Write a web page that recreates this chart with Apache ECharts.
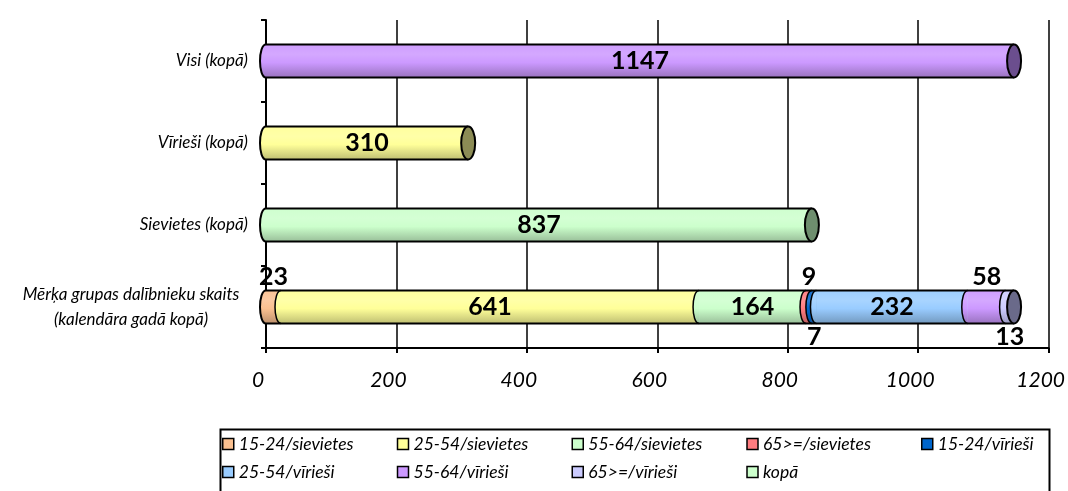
<!DOCTYPE html>
<html><head><meta charset="utf-8">
<script src="https://cdn.jsdelivr.net/npm/echarts@6/dist/echarts.min.js"></script>
<style>html,body{margin:0;padding:0;background:#fff}#c{width:1068px;height:491px}</style>
</head><body><div id="c"></div>
<script>
// ---- data ----
const categories = ['Mērķa grupas dalībnieku skaits\n(kalendāra gadā kopā)', 'Sievietes (kopā)', 'Vīrieši (kopā)', 'Visi (kopā)'];
const seriesNames = ['15-24/sievietes','25-54/sievietes','55-64/sievietes','65>=/sievietes','15-24/vīrieši','25-54/vīrieši','55-64/vīrieši','65>=/vīrieši','kopā'];
const s15_24_siev = [23, null, null, null];
const s25_54_siev = [641, null, 310, null];
const s55_64_siev = [164, null, null, null];
const s65_siev    = [9, null, null, null];
const s15_24_vir  = [7, null, null, null];
const s25_54_vir  = [232, null, null, null];
const s55_64_vir  = [58, null, null, 1147];
const s65_vir     = [13, null, null, null];
const sKopa       = [null, 837, null, null];
const xTicks = [0, 200, 400, 600, 800, 1000, 1200];

const seriesData = [s15_24_siev, s25_54_siev, s55_64_siev, s65_siev, s15_24_vir, s25_54_vir, s55_64_vir, s65_vir, sKopa];

// ---- styles ----
const baseColors = ['#FAC090','#FFFF99','#CCFFCC','#FF7C80','#0066CC','#99CCFF','#CC99FF','#CCCCFF','#CCFFCC'];
const capColors  = ['#B08060','#8C8C55','#6E8E6E','#B05558','#004488','#5F7F9F','#6B4E8E','#6A6A8A','#6E8E6E'];
const smallPos = {0:'top', 3:'top', 4:'bottom', 6:'top', 7:'bottom'};

function shade(hex, f){
  const n = parseInt(hex.slice(1),16);
  let r=(n>>16)&255, g=(n>>8)&255, b=n&255;
  if (f<0){ r=Math.round(r*(1+f)); g=Math.round(g*(1+f)); b=Math.round(b*(1+f)); }
  else { r=Math.round(r+(255-r)*f); g=Math.round(g+(255-g)*f); b=Math.round(b+(255-b)*f); }
  return 'rgb('+r+','+g+','+b+')';
}
function grad(k){
  const c = baseColors[k];
  return new echarts.graphic.LinearGradient(0,0,0,1,[
    {offset:0, color: shade(c,0.05)},
    {offset:0.3, color: shade(c,0.15)},
    {offset:0.55, color: c},
    {offset:1, color: shade(c,-0.25)}
  ]);
}

const FONT = 'Lato';
const BAR_H = 33;

const barSeries = seriesNames.map((name, k) => ({
  name: name,
  type: 'bar',
  stack: 'total',
  barWidth: BAR_H,
  itemStyle: { color: grad(k) },
  label: { show: true, position: 'inside', color: '#000', fontFamily: FONT, fontWeight: 'bold', fontSize: 25, distance: 1 },
  data: seriesData[k].map(v => {
    if (v == null) return null;
    if (v < 100 && smallPos[k] !== undefined) return { value: v, label: { position: smallPos[k] } };
    return v;
  }),
  z: 2
}));

function renderRow(params, api){
  const i = api.value(1);
  const segs = []; let cum = 0;
  seriesData.forEach((arr, k) => { const v = arr[i]; if (v) { segs.push({start: cum, end: cum + v, k: k}); cum += v; } });
  const cy = api.coord([0, i])[1];
  const h = BAR_H / 2;
  const top = cy - h, bot = cy + h;
  const X = v => api.coord([v, i])[0];
  const rx = 6, c = rx * 4 / 3;
  const ch = [];
  const arc = (x, k, first) => {
    ch.push({type:'path', shape:{pathData:'M'+x+','+top+' C'+(x-c)+','+top+' '+(x-c)+','+bot+' '+x+','+bot+' Z'}, style:{fill: grad(k), stroke: null}});
    ch.push({type:'path', shape:{pathData:'M'+x+','+top+' C'+(x-c)+','+top+' '+(x-c)+','+bot+' '+x+','+bot}, style:{fill: null, stroke:'#000', lineWidth: first ? 2 : 1.5}});
  };
  segs.forEach((s, j) => arc(X(s.start), s.k, j === 0));
  const x0 = X(0), x1 = X(cum);
  ch.push({type:'line', shape:{x1:x0, y1:top, x2:x1, y2:top}, style:{stroke:'#000', lineWidth:2}});
  ch.push({type:'line', shape:{x1:x0, y1:bot, x2:x1, y2:bot}, style:{stroke:'#000', lineWidth:2}});
  const last = segs[segs.length - 1];
  ch.push({type:'ellipse', shape:{cx:x1, cy:cy, rx:rx+1, ry:h}, style:{fill: capColors[last.k], stroke:'#000', lineWidth:2}});
  return {type:'group', children: ch};
}

const rowData = categories.map((c, i) => [seriesData.reduce((a, arr) => a + (arr[i] || 0), 0), i]);

const chart = echarts.init(document.getElementById('c'), null, {renderer:'canvas'});
chart.setOption({
  animation: false,
  backgroundColor: '#fff',
  grid: { left: 266, right: 18, top: 20, bottom: 143 },
  xAxis: {
    type: 'value', min: 0, max: 1200, interval: 200,
    axisLine: { show: true, lineStyle: { color: '#000', width: 2 } },
    axisTick: { show: true, length: 5, lineStyle: { color: '#000', width: 2 } },
    splitLine: { show: true, lineStyle: { color: '#000', width: 1.5 } },
    axisLabel: { color: '#000', fontFamily: FONT, fontStyle: 'italic', fontSize: 21, margin: 22, padding: [0, 16, 0, 0],
      formatter: v => xTicks.indexOf(v) >= 0 ? String(v) : '' }
  },
  yAxis: {
    type: 'category', data: categories, offset: 7,
    axisLine: { show: true, lineStyle: { color: '#000', width: 2 } },
    axisTick: { show: true, length: 5, lineStyle: { color: '#000', width: 2 } },
    axisLabel: {
      color: '#000', fontFamily: FONT, fontStyle: 'italic', fontSize: 17, margin: 11, lineHeight: 25,
      formatter: v => v.indexOf('\n') >= 0 ? v.split('\n').map(s => '{c|' + s + '}').join('\n') : v,
      rich: { c: { width: 234, align: 'center', fontFamily: FONT, fontStyle: 'italic', fontSize: 17, lineHeight: 25, color: '#000' } }
    }
  },
  legend: {
    left: 222, top: 435, width: 900, orient: 'horizontal',
    itemWidth: 11, itemHeight: 11, itemGap: 10, icon: 'rect', padding: 0,
    textStyle: { fontFamily: FONT, fontStyle: 'italic', fontSize: 17.5, color: '#000', width: 148, lineHeight: 16 },
    itemStyle: { borderColor: '#000', borderWidth: 1.5 },
    data: seriesNames.map((n, k) => ({ name: n, itemStyle: { color: baseColors[k], borderColor: '#000', borderWidth: 1.5 } }))
  },
  graphic: [{ type: 'rect', left: 218, top: 427, shape: { width: 829, height: 80 }, style: { fill: null, stroke: '#000', lineWidth: 2 }, silent: true }],
  series: barSeries.concat([{
    type: 'custom', renderItem: renderRow, data: rowData, encode: { x: 0, y: 1 }, z: 3, silent: true
  }])
});
</script></body></html>
